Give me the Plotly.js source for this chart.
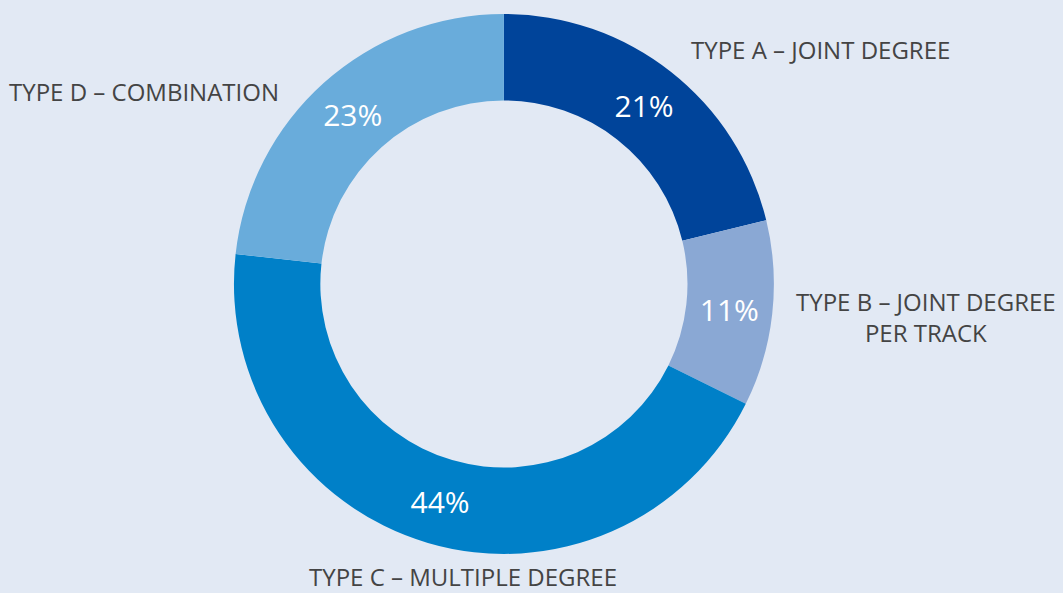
<!DOCTYPE html>
<html>
<head>
<meta charset="utf-8">
<script src="https://cdn.plot.ly/plotly-3.0.1.min.js"></script>
<style>html,body{margin:0;padding:0;background:#e2e9f4;}#chart{width:1063px;height:593px;}</style>
</head>
<body>
<div id="chart"></div>
<script>
const categories = ["TYPE A – JOINT DEGREE", "TYPE B – JOINT DEGREE<br>PER TRACK", "TYPE C – MULTIPLE DEGREE", "TYPE D – COMBINATION"];
const values = [21, 11, 44, 23];
const colors = ["#00449a", "#8aa8d4", "#0080c8", "#69acdb"];
const labelPos = [
  {x: 0.772, y: 0.916},
  {x: 0.871, y: 0.4646},
  {x: 0.4356, y: 0.027},
  {x: 0.1355, y: 0.846}
];

const trace = {
  type: "pie",
  labels: categories,
  values: values,
  marker: {colors: colors, line: {width: 0}},
  hole: 0.68,
  sort: false,
  direction: "clockwise",
  rotation: 0,
  textinfo: "text",
  text: values.map(v => v + "%"),
  textposition: "inside",
  insidetextorientation: "horizontal",
  textfont: {family: "Open Sans, sans-serif", size: 30, color: "#ffffff"},
  domain: {x: [0.2200, 0.7281], y: [0.0659, 0.9764]},
  hoverinfo: "label+percent",
  showlegend: false
};

const annotations = categories.map((c, i) => ({
  text: c,
  x: labelPos[i].x, y: labelPos[i].y,
  xref: "paper", yref: "paper",
  xanchor: "center", yanchor: "middle",
  showarrow: false,
  align: "center",
  font: {family: "Open Sans, sans-serif", size: 24, color: "#444444"}
}));

Plotly.newPlot("chart", [trace], {
  width: 1063, height: 593,
  margin: {l: 0, r: 0, t: 0, b: 0},
  paper_bgcolor: "#e2e9f4",
  plot_bgcolor: "#e2e9f4",
  annotations: annotations
}, {displayModeBar: false});
</script>
</body>
</html>
